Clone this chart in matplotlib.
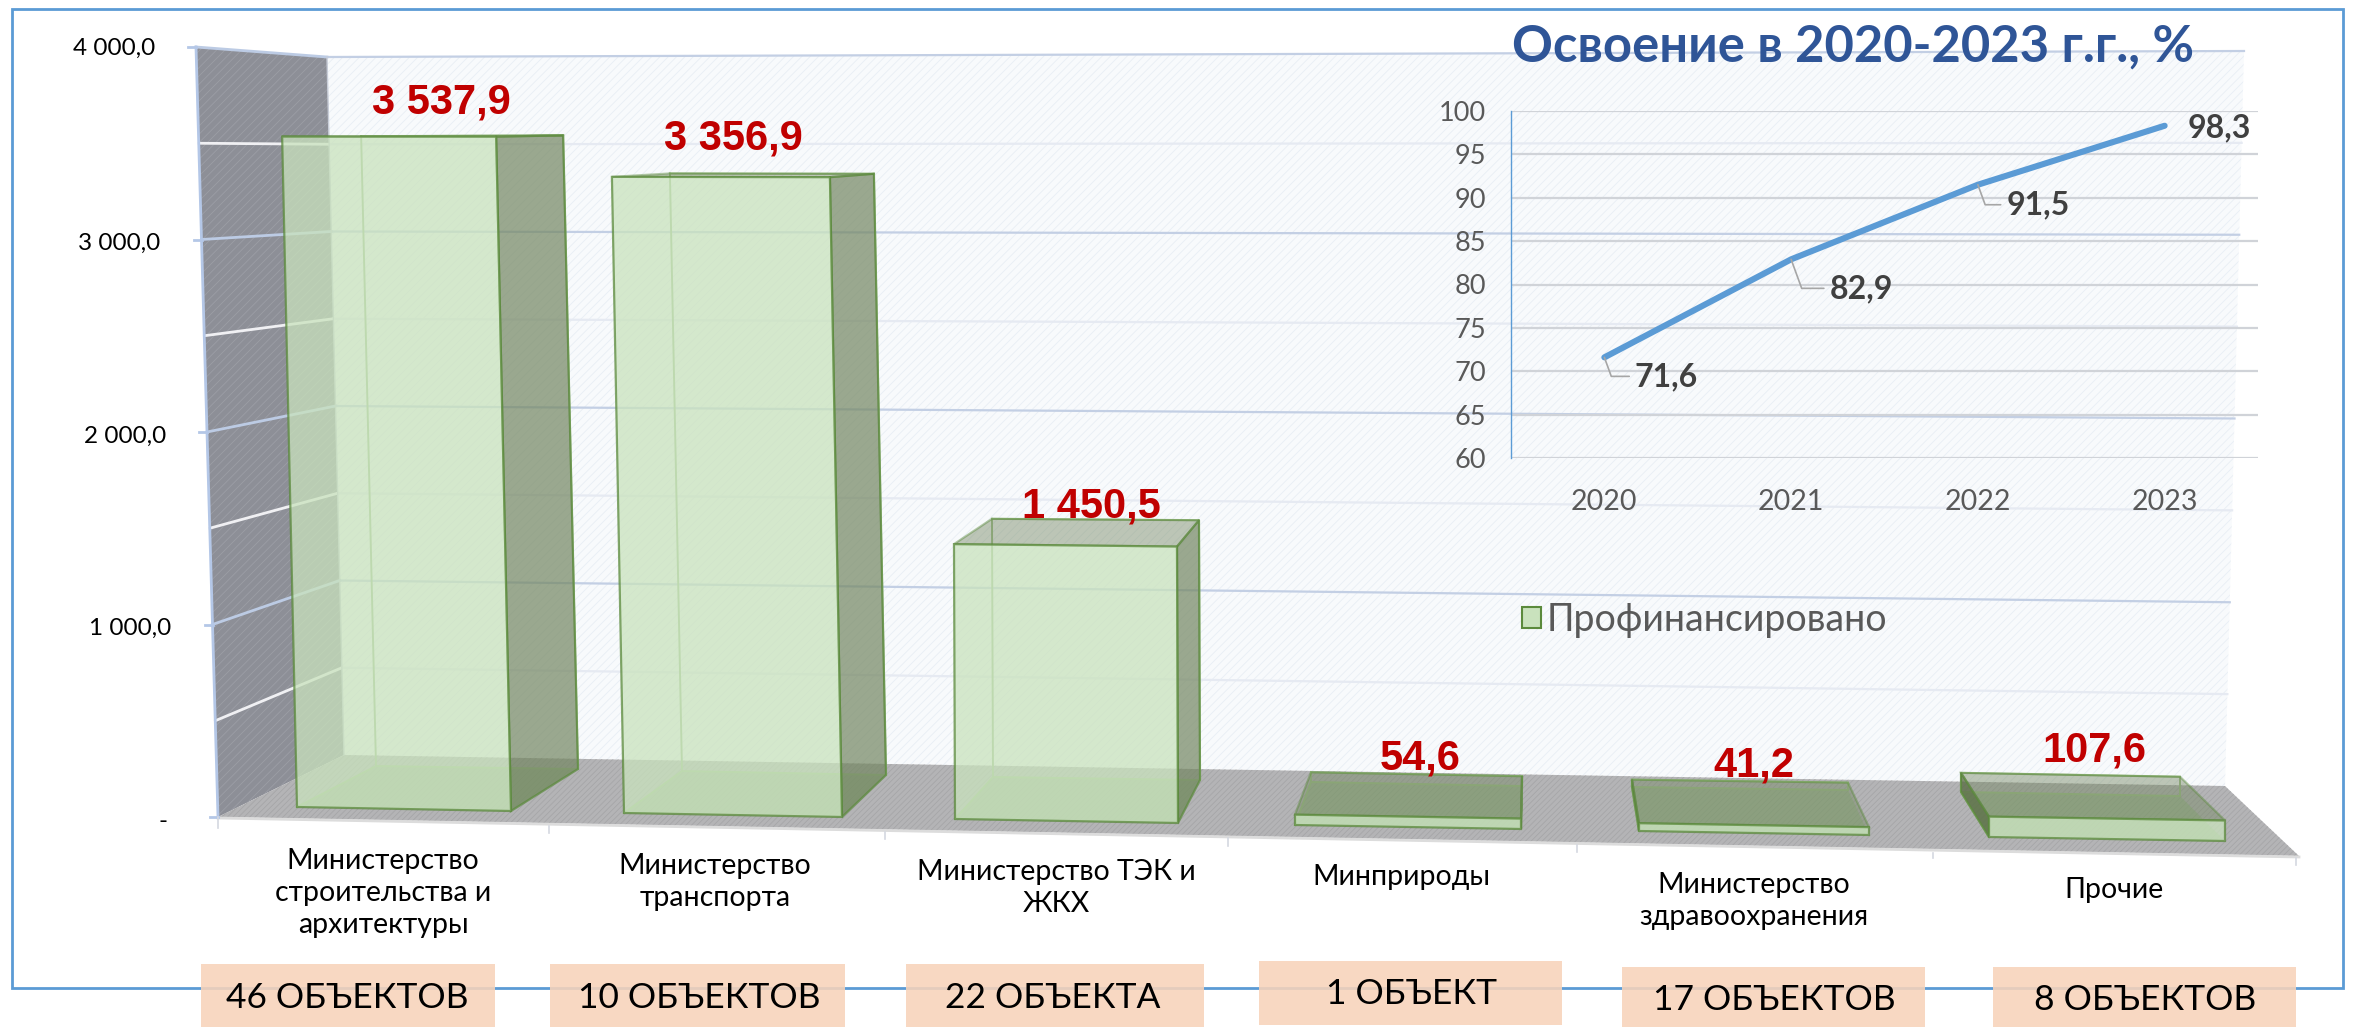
import matplotlib
matplotlib.use("Agg")
import matplotlib.pyplot as plt
from matplotlib.patches import Polygon, Rectangle, Patch

W, H = 2359, 1027

# ── Data ──────────────────────────────────────────────
CATEGORIES = ["Министерство\nстроительства и\nархитектуры", "Министерство\nтранспорта",
              "Министерство ТЭК и\nЖКХ", "Минприроды", "Министерство\nздравоохранения", "Прочие"]
FINANCED = [3537.9, 3356.9, 1450.5, 54.6, 41.2, 107.6]
FINANCED_LABELS = ["3 537,9", "3 356,9", "1 450,5", "54,6", "41,2", "107,6"]
OBJECTS = ["46 ОБЪЕКТОВ", "10 ОБЪЕКТОВ", "22 ОБЪЕКТА", "1 ОБЪЕКТ", "17 ОБЪЕКТОВ", "8 ОБЪЕКТОВ"]
Y_TICKS = [0, 1000, 2000, 3000, 4000]
Y_TICK_LABELS = ["-", "1 000,0", "2 000,0", "3 000,0", "4 000,0"]

YEARS = ["2020", "2021", "2022", "2023"]
OSVOENIE = [71.6, 82.9, 91.5, 98.3]
OSVOENIE_LABELS = ["71,6", "82,9", "91,5", "98,3"]

# ── Layout of the fake 3D scene, pixels of the picture ─
FONT = ["Lato", "Open Sans", "DejaVu Sans"]
GREEN_EDGE = "#5b8a3c"
GREEN_FACE = "#c9e2bd"
SIDE_FACE = "#738661"
FRONT_PX = 0.1895  # px per unit on the front plane
BACK_PX = 0.178    # px per unit on the back plane
RIGHT_EXTRA = 0.0011  # right corners rise a bit more, tops stay level

# front-left, front-right, back-left, back-right base points, lean per 1000, label x, label gap
BAR_GEOM = [
    ((297, 807), (511, 811), (376, 766), (578, 769), -4.2, 441, 34),
    ((624, 813), (842, 817), (682, 771), (886, 775), -3.6, 733, 35),
    ((955, 819), (1178, 823), (993, 777), (1200, 780), -0.7, 1091, 12),
    ((1295, 825), (1521, 829), (1311, 782), (1522, 786), 0, 1420, 14),
    ((1639, 831), (1869, 835), (1632, 787), (1848, 790), 0, 1754, 14),
    ((1989, 837), (2225, 841), (1961, 792), (2180, 796), 0, 2094, 22),
]
BOXES = [(201, 964, 495, 1027, 347, 998), (550, 964, 845, 1027, 699, 998),
         (906, 964, 1204, 1027, 1053, 998), (1259, 961, 1562, 1025, 1412, 994),
         (1622, 967, 1925, 1027, 1774, 1000), (1993, 967, 2296, 1027, 2145, 1000)]
CAT_POS = [(383, 893), (715, 882), (1056, 888), (1401, 877), (1754, 901), (2114, 890)]
X_TICKS_PX = [(218, 817, 828), (549, 826, 833), (885, 832, 839), (1228, 838, 846),
              (1577, 845, 852), (1933, 853, 858), (2296, 858, 865)]


def front_left(v):
    return 218 - v * 0.0055, 817 - v * 0.1925


def back_left(v):
    return 344 - v * 0.00425, 755 - v * 0.1745


def back_right(v):
    return 2225 + v * 0.00475, 786 - v * 0.18375


def up(pt, v, scale, lean):
    return pt[0] + lean * v / 1000, pt[1] - v * scale


plt.rcParams["hatch.linewidth"] = 0.6
plt.rcParams["font.family"] = FONT

fig = plt.figure(figsize=(W / 100, H / 100), dpi=100, facecolor="white")
ax = fig.add_axes([0, 0, 1, 1])
ax.set_xlim(0, W)
ax.set_ylim(H, 0)
ax.axis("off")

# outer frame
ax.add_patch(Rectangle((12, 9), 2331, 979, fill=False, ec="#5b9bd5", lw=2, zorder=1))

# walls and floor
ax.add_patch(Polygon([back_left(4000), back_right(4000), back_right(0), back_left(0)],
                     fc="#f8fafc", ec="#e8eef5", hatch="////", lw=0, zorder=2))
ax.add_patch(Polygon([front_left(4000), back_left(4000), back_left(0), front_left(0)],
                     fc="#8d8f97", ec="#9c9ea5", hatch="////", lw=0, zorder=2))
ax.add_patch(Polygon([back_left(0), back_right(0), (2299, 856), front_left(0)],
                     fc="#b4b4b6", ec="#a6a6a8", hatch="//////", lw=0, zorder=2))
ax.plot([front_left(0)[0], 2299], [front_left(0)[1] + 1, 857], color="#dcdcdc", lw=2, zorder=2)

# gridlines, every 500
for v in range(500, 4001, 500):
    major = v % 1000 == 0
    bl, br, fl = back_left(v), back_right(v), front_left(v)
    ax.plot([bl[0], br[0]], [bl[1], br[1]], color="#c3cfe4" if major else "#e6eaf2",
            lw=1.6, zorder=3)
    ax.plot([fl[0], bl[0]], [fl[1], bl[1]], color="#bccbe4" if major else "#f0f0f3",
            lw=2, zorder=3)
ax.plot(*zip(front_left(0), front_left(4000)), color="#b4c7e7", lw=2, zorder=3)
ax.plot(*zip(back_left(0), back_left(4000)), color="#c8cdd8", lw=1, zorder=3)

# value axis ticks
for v, lab in zip(Y_TICKS, Y_TICK_LABELS):
    x, y = front_left(v)
    ax.plot([x - 8, x], [y, y], color="#b4c7e7", lw=2, zorder=3)
    ax.text(x - 41 if v else 168, (y + 4 if v < 4000 else y + 1) if v else y + 5, lab,
            ha="right", va="center", fontsize=17.5, color="black", zorder=8)

for x, y0, y1 in X_TICKS_PX:
    ax.plot([x, x], [y0, y1], color="#d4d8e0", lw=1.2, zorder=3)

# bars
for value, lab, geom in zip(FINANCED, FINANCED_LABELS, BAR_GEOM):
    fl, fr, bl, br, lean, lab_x, gap = geom
    fl_t, fr_t = up(fl, value, FRONT_PX, lean), up(fr, value, FRONT_PX + RIGHT_EXTRA, lean)
    bl_t, br_t = up(bl, value, BACK_PX, lean), up(br, value, BACK_PX + RIGHT_EXTRA, lean)

    ax.add_patch(Polygon([fl, fr, br, bl], fc="#8fb57c", alpha=0.5, lw=0, zorder=4))
    ax.plot(*zip(fl, bl, br), color="#9dbf88", lw=1.4, zorder=4)
    ax.plot(*zip(bl, bl_t), color="#9dbf88", lw=1.4, zorder=4)
    ax.plot(*zip(br, br_t), color="#9dbf88", lw=1.4, zorder=4)
    ax.plot(*zip(bl_t, br_t), color="#9dbf88", lw=1.4, zorder=4)
    if br[0] > fr[0]:
        ax.add_patch(Polygon([fr, br, br_t, fr_t], fc=SIDE_FACE, alpha=0.7, ec=GREEN_EDGE, lw=1.6, zorder=5))
    if bl[0] < fl[0]:
        ax.add_patch(Polygon([fl, bl, bl_t, fl_t], fc="#55683f", alpha=0.75, ec=GREEN_EDGE, lw=1.6, zorder=5))
    ax.add_patch(Polygon([fl_t, fr_t, br_t, bl_t], fc=SIDE_FACE, alpha=0.45, ec=GREEN_EDGE, lw=1.6, zorder=5))
    ax.add_patch(Polygon([fl, fr, fr_t, fl_t], fc=GREEN_FACE, alpha=0.75, ec=GREEN_EDGE, lw=1.6, zorder=6))
    ax.text(lab_x, min(bl_t[1], fl_t[1]) - gap, lab, ha="center", va="center", fontsize=30,
            fontweight="bold", color="#c00000", family=["Liberation Sans"], zorder=9)

# category labels
for cat, (x, y) in zip(CATEGORIES, CAT_POS):
    ax.text(x, y, cat, ha="center", va="center", fontsize=20.5, color="black",
            linespacing=1.3, zorder=8)

# object count boxes
for txt, (x0, y0, x1, y1, tx, ty) in zip(OBJECTS, BOXES):
    ax.add_patch(Rectangle((x0, y0), x1 - x0, y1 - y0, fc="#f8d3ba", alpha=0.88, lw=0, zorder=7))
    ax.text(tx, ty, txt, ha="center", va="center", fontsize=25.5, color="black", zorder=8)

# legend
ax.legend(handles=[Patch(fc=GREEN_FACE, ec=GREEN_EDGE, lw=1.5, label="Профинансировано")],
          loc="center left", bbox_to_anchor=(1488 / W, 1 - 620 / H), frameon=False,
          handlelength=0.5, handleheight=0.5, handletextpad=0.15,
          prop={"size": 27}, labelcolor="#595959")

# title of the inset
ax.text(1853, 47, "Освоение в 2020-2023 г.г., %", ha="center", va="center", fontsize=36.5,
        fontweight="bold", color="#2f5597", zorder=9)

# ── Inset line chart ──────────────────────────────────
ins = fig.add_axes([1511 / W, 1 - 458 / H, (2258 - 1511) / W, (458 - 111) / H])
ins.patch.set_alpha(0)
ins.set_xlim(-0.5, 3.5)
ins.set_ylim(60, 100)
ins.set_yticks(range(60, 101, 5))
ins.set_xticks(range(4))
ins.set_xticklabels(YEARS)
ins.tick_params(length=0, labelsize=19.5, labelcolor="#595959")
ins.tick_params(axis="x", pad=22, labelsize=20.5)
ins.tick_params(axis="y", pad=18)
ins.grid(axis="y", color="#d0d3d8", lw=1.6)
ins.set_axisbelow(True)
for side in ["top", "right", "bottom"]:
    ins.spines[side].set_visible(False)
ins.spines["left"].set_color("#5b9bd5")
ins.spines["left"].set_linewidth(1)
ins.plot(range(4), OSVOENIE, color="#5b9bd5", lw=4.4, solid_capstyle="round", zorder=3)

OFFSETS = [(62, -19), (70, -29), (60, -20), (55, -2)]
for i, (v, lab, off) in enumerate(zip(OSVOENIE, OSVOENIE_LABELS, OFFSETS)):
    arrow = None
    if i < 3:
        arrow = dict(arrowstyle="-", color="#a6a6a6", lw=1.2, shrinkA=2, shrinkB=0,
                     connectionstyle="angle,angleA=180,angleB=110,rad=0",
                     relpos=(0, 0.5))
    ins.annotate(lab, xy=(i, v), xytext=off, textcoords="offset pixels", ha="center", va="center",
                 fontsize=23, fontweight="bold", color="#404040", arrowprops=arrow, zorder=4)

fig.savefig("out.png", dpi=100)
